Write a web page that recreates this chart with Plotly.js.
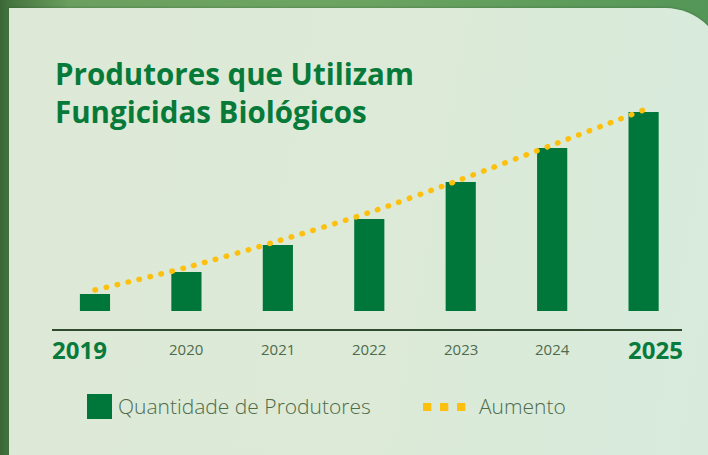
<!DOCTYPE html>
<html><head><meta charset="utf-8">
<script src="https://cdn.plot.ly/plotly-3.0.1.min.js"></script>
<style>
html,body{margin:0;padding:0;width:708px;height:455px;overflow:hidden;}
body{position:relative;background:linear-gradient(90deg,#3a6635 0px,#44743e 9px,#6a9f5f 70px,#6ea462 45%,#5e9c5c 80%,#549657 100%);}
#card{position:absolute;left:9px;top:8px;width:716px;height:470px;border-top-right-radius:60px;background:linear-gradient(100deg,#dde9d6 0%,#dcead7 55%,#d7ebdd 100%);box-shadow:0 -1px 2px rgba(40,70,40,0.25);}
#chart{position:absolute;left:0;top:0;width:708px;height:455px;}
.js-line{stroke-linecap:round !important;}
</style></head><body>
<div id="card"></div><div id="chart"></div>
<script>
// ---- data ----
const years = ['2019','2020','2021','2022','2023','2024','2025'];
const producers = [17, 39, 66, 92, 129, 163, 199];
const growth = [21, 43.5, 70, 98.5, 131.5, 166, 201];
const seriesNames = ['Quantidade de Produtores', 'Aumento'];
const titleLines = ['Produtores que Utilizam', 'Fungicidas Biológicos'];

// ---- layout helpers (pixel -> paper) ----
const W = 708, H = 455, L = 52, R = 26, T = 80, B = 126;
const pw = W - L - R, ph = H - T - B;
const px = x => (x - L) / pw;
const py = y => (H - B - y) / ph;

const green = '#00773a';
const gold = '#fdc00f';
const dark = '#4e6b4c';

const traces = [
  {type: 'bar', x: years, y: producers, name: seriesNames[0], width: 0.33,
   marker: {color: green, line: {width: 0}}, hoverinfo: 'skip'},
  {type: 'scatter', mode: 'lines', x: years, y: growth, name: seriesNames[1],
   line: {color: gold, width: 5.5, dash: '0.5px,10.8px', shape: 'spline', smoothing: 0.8}, hoverinfo: 'skip'}
];

const annotations = years.map((yr, i) => {
  const edge = (i === 0 || i === years.length - 1);
  return {
    x: i, xref: 'x', y: py(349), yref: 'paper', xanchor: 'center', yanchor: 'middle',
    xshift: i === 0 ? -15 : (i === years.length - 1 ? 12 : 0),
    text: edge ? '<b>' + yr + '</b>' : yr, showarrow: false,
    font: edge ? {family: 'Open Sans', size: 24, color: '#087a3c'} : {family: 'Open Sans', size: 15, color: dark}
  };
});
annotations.push({x: px(116), xref: 'paper', y: py(406), yref: 'paper', xanchor: 'left', yanchor: 'middle',
  text: seriesNames[0], showarrow: false, font: {family: 'Open Sans', size: 21, weight: 300, color: dark}});
annotations.push({x: px(477), xref: 'paper', y: py(406), yref: 'paper', xanchor: 'left', yanchor: 'middle',
  text: seriesNames[1], showarrow: false, font: {family: 'Open Sans', size: 21, weight: 300, color: dark}});

const shapes = [
  {type: 'rect', xref: 'paper', yref: 'paper', x0: px(87), x1: px(112), y0: py(394), y1: py(419),
   fillcolor: green, line: {width: 0}}
];
[423, 440, 457].forEach(x => shapes.push({type: 'rect', xref: 'paper', yref: 'paper',
  x0: px(x), x1: px(x + 8.3), y0: py(403), y1: py(411), fillcolor: gold, line: {width: 0}}));

const layout = {
  width: W, height: H,
  margin: {l: L, r: R, t: T, b: B, pad: 0},
  paper_bgcolor: 'rgba(0,0,0,0)', plot_bgcolor: 'rgba(0,0,0,0)',
  showlegend: false,
  title: {text: titleLines.join('<br>'), xref: 'container', yref: 'container', x: 55 / W, xanchor: 'left',
          y: 1 - 85 / H, yanchor: 'top', font: {family: 'Open Sans', size: 29.5, weight: 700, color: '#077a3a'}},
  xaxis: {type: 'category', range: [-0.47, 6.42], showticklabels: false, ticks: '', showgrid: false,
          zeroline: false, showline: true, linecolor: '#2f4a2c', linewidth: 2, fixedrange: true},
  yaxis: {range: [-18, 231], visible: false, showgrid: false, zeroline: false, fixedrange: true},
  annotations: annotations,
  shapes: shapes
};

Plotly.newPlot('chart', traces, layout, {displayModeBar: false, staticPlot: true});
</script>
</body></html>
